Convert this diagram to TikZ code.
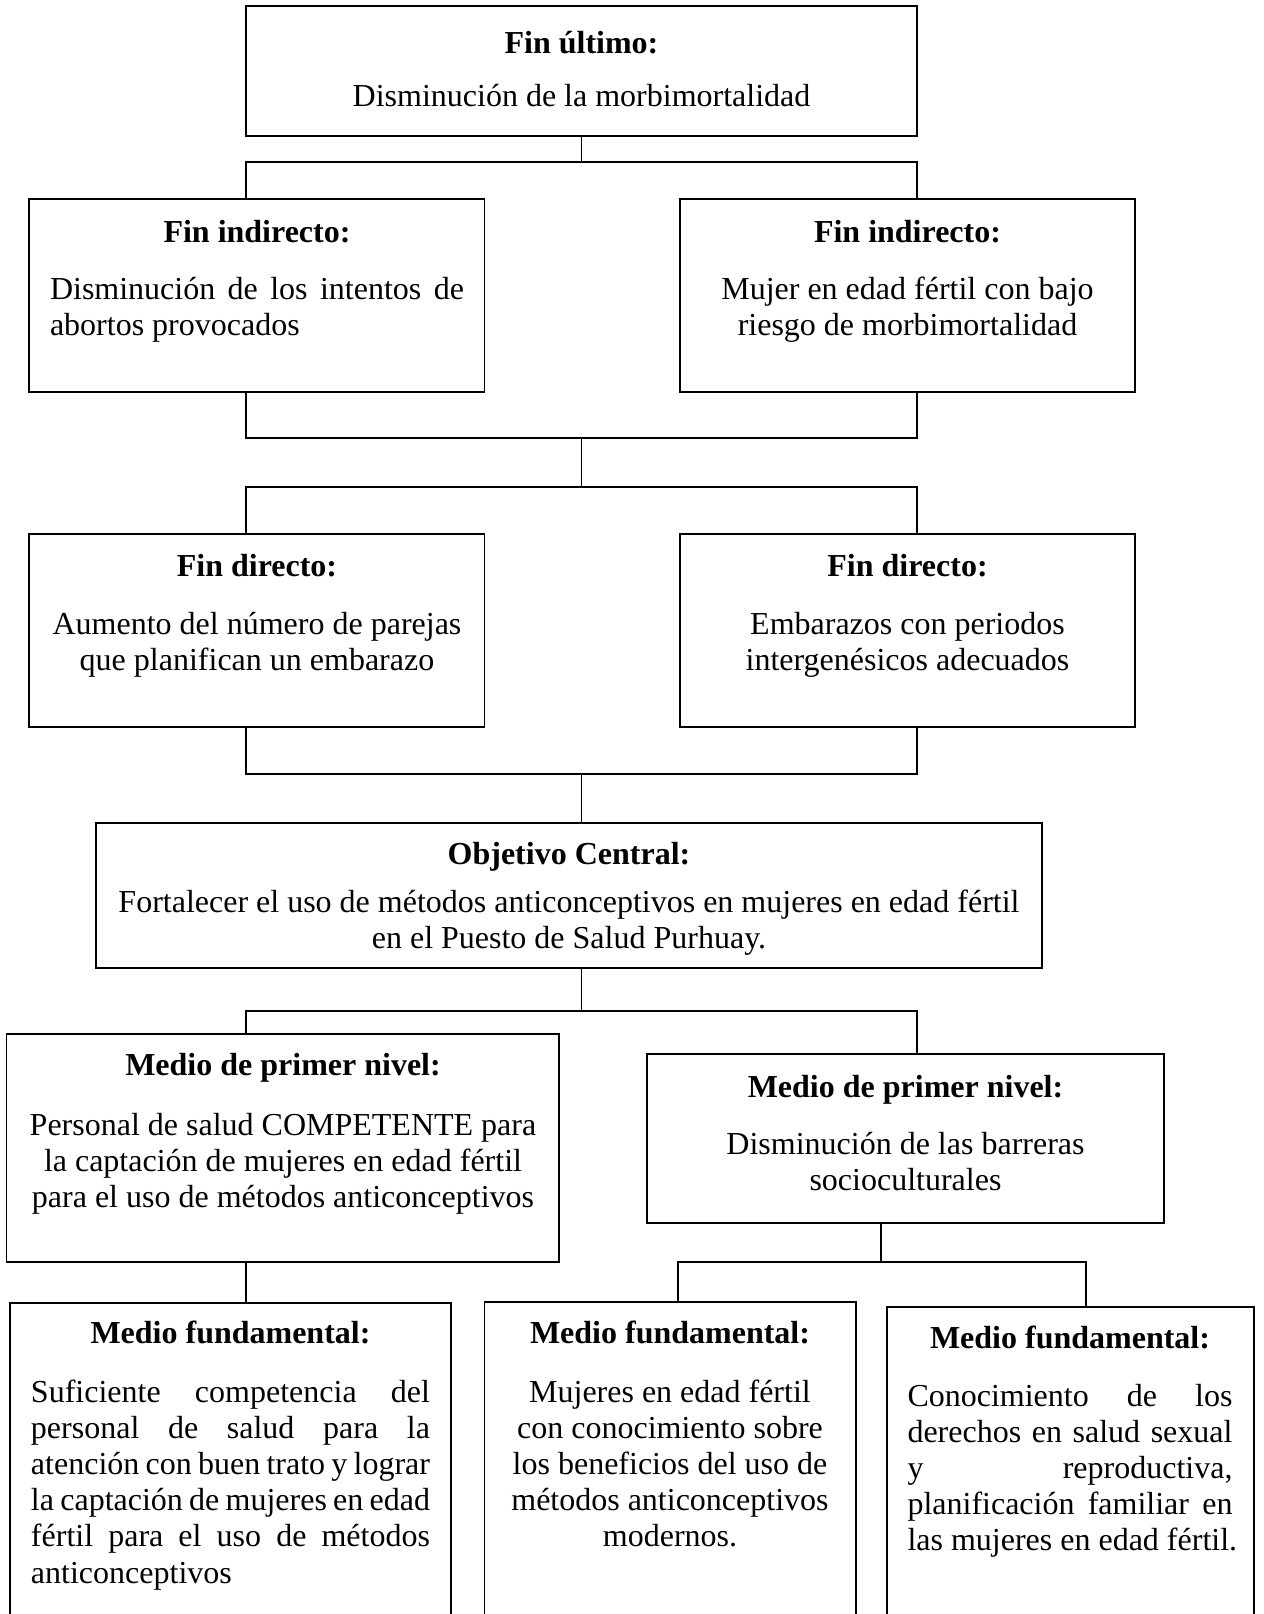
\documentclass[tikz,border=0pt]{standalone}
\usepackage{fontspec}
\setmainfont{Liberation Serif}
\usetikzlibrary{fit}
\newcommand{\Jl}[2]{\makebox[#1][s]{#2}}
\newcommand{\Ll}[2]{\makebox[#1][l]{#2}}
\tikzset{
  box/.style={draw, line width=0.75pt, inner sep=0pt},
  conn/.style={line width=0.75pt},
  ttl/.style={anchor=base, inner sep=0pt, font=\fontsize{16}{18.1}\selectfont\bfseries},
  txt/.style={anchor=base, inner sep=0pt, font=\fontsize{16}{18.1}\selectfont},
}
\begin{document}
\begin{tikzpicture}[x=0.5pt, y=-0.5pt]
\useasboundingbox (0,0) rectangle (1264,1614);
\begin{scope}
\clip (0,0) rectangle (1264,1614);
\fill[white] (0,0) rectangle (1264,1614);
% column / row coordinates
\coordinate (xl) at (246,0);
\coordinate (xr) at (917,0);
\coordinate (xc) at (581.5,0);
\coordinate (xm) at (881,0);
\coordinate (xa) at (678,0);
\coordinate (xb) at (1086,0);
\coordinate (y1) at (0,162);
\coordinate (y2) at (0,438);
\coordinate (y3) at (0,487);
\coordinate (y4) at (0,774);
\coordinate (y5) at (0,1011);
\coordinate (y6) at (0,1262);

% boxes
\node[box, fit={(246,6) (917,136)}] (T) {};
\node[box, fit={(29,199) (484.5,392)}] (LI) {};
\node[box, fit={(680,199) (1135,392)}] (RI) {};
\node[box, fit={(29,534) (484.5,727)}] (LD) {};
\node[box, fit={(680,534) (1135,727)}] (RD) {};
\node[box, fit={(96,823) (1042,968)}] (O) {};
\node[box, fit={(6.5,1034) (559,1262)}] (LM) {};
\node[box, fit={(647,1054) (1164,1223)}] (RM) {};
\node[box, fit={(10,1303) (451,1660)}] (LF) {};
\node[box, fit={(484.5,1302) (856,1660)}] (MF) {};
\node[box, fit={(887,1307) (1254,1660)}] (RF) {};

% texts
\node[ttl] (Tt) at (581.5,53) {Fin último:};
\node[txt] (Tb) at (581.5,106) {Disminución de la morbimortalidad};

\node[ttl] (LIt) at (257,242) {Fin indirecto:};
\node[txt] (LIb) at (257,299) {\parbox[t]{207pt}{\Jl{207pt}{Disminución de los intentos de}\\\Ll{207pt}{abortos provocados}}};
\node[ttl] (RIt) at (907.5,242) {Fin indirecto:};
\node[txt] (RIb) at (907.5,299) {\parbox[t]{220pt}{\centering Mujer en edad fértil con bajo\\riesgo de morbimortalidad}};

\node[ttl] (LDt) at (257,576) {Fin directo:};
\node[txt] (LDb) at (257,634) {\parbox[t]{220pt}{\centering Aumento del número de parejas\\que planifican un embarazo}};
\node[ttl] (RDt) at (907.5,576) {Fin directo:};
\node[txt] (RDb) at (907.5,634) {\parbox[t]{220pt}{\centering Embarazos con periodos\\intergenésicos adecuados}};

\node[ttl] (Ot) at (569,864) {Objetivo Central:};
\node[txt] (Ob) at (569,912) {\parbox[t]{470pt}{\centering Fortalecer el uso de métodos anticonceptivos en mujeres en edad fértil\\en el Puesto de Salud Purhuay.}};

\node[ttl] (LMt) at (283,1075) {Medio de primer nivel:};
\node[txt] (LMb) at (283,1135) {\parbox[t]{270pt}{\centering Personal de salud COMPETENTE para\\la captación de mujeres en edad fértil\\para el uso de métodos anticonceptivos}};
\node[ttl] (RMt) at (905.5,1097) {Medio de primer nivel:};
\node[txt] (RMb) at (905.5,1154) {\parbox[t]{250pt}{\centering Disminución de las barreras\\socioculturales}};

\node[ttl] (LFt) at (230.5,1343) {Medio fundamental:};
\node[txt] (LFb) at (230.5,1402) {\parbox[t]{199.5pt}{\Jl{199.5pt}{Suficiente competencia del}\\\Jl{199.5pt}{personal de salud para la}\\\Jl{199.5pt}{atención con buen trato y lograr}\\\Jl{199.5pt}{la captación de mujeres en edad}\\\Jl{199.5pt}{fértil para el uso de métodos}\\\Ll{199.5pt}{anticonceptivos}}};
\node[ttl] (MFt) at (670,1343) {Medio fundamental:};
\node[txt] (MFb) at (670,1402) {\parbox[t]{180pt}{\centering Mujeres en edad fértil\\con conocimiento sobre\\los beneficios del uso de\\métodos anticonceptivos\\modernos.}};
\node[ttl] (RFt) at (1070,1348) {Medio fundamental:};
\node[txt] (RFb) at (1070,1406) {\parbox[t]{162.5pt}{\Jl{162.5pt}{Conocimiento de los}\\\Jl{162.5pt}{derechos en salud sexual}\\\Jl{162.5pt}{y reproductiva,}\\\Jl{162.5pt}{planificación familiar en}\\\Ll{162.5pt}{las mujeres en edad fértil.}}};

% connectors
\draw[conn] (T.south -| xc) -- (xc |- y1);
\draw[conn] (LI.north -| xl) -- (xl |- y1) -- (xr |- y1) -- (RI.north -| xr);
\draw[conn] (LI.south -| xl) -- (xl |- y2) -- (xr |- y2) -- (RI.south -| xr);
\draw[conn] (xc |- y2) -- (xc |- y3);
\draw[conn] (LD.north -| xl) -- (xl |- y3) -- (xr |- y3) -- (RD.north -| xr);
\draw[conn] (LD.south -| xl) -- (xl |- y4) -- (xr |- y4) -- (RD.south -| xr);
\draw[conn] (xc |- y4) -- (O.north -| xc);
\draw[conn] (O.south -| xc) -- (xc |- y5);
\draw[conn] (LM.north -| xl) -- (xl |- y5) -- (xr |- y5) -- (RM.north -| xr);
\draw[conn] (LM.south -| xl) -- (LF.north -| xl);
\draw[conn] (RM.south -| xm) -- (xm |- y6);
\draw[conn] (MF.north -| xa) -- (xa |- y6) -- (xb |- y6) -- (RF.north -| xb);
\end{scope}
\end{tikzpicture}
\end{document}
